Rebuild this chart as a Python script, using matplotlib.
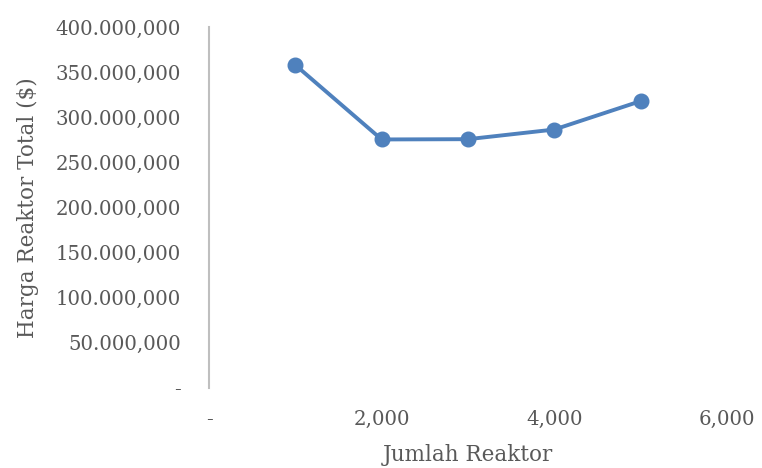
import matplotlib
matplotlib.use("Agg")
import matplotlib.pyplot as plt
from matplotlib.ticker import FuncFormatter

# Number of reactors vs. total reactor price
jumlah_reaktor = [1, 2, 3, 4, 5]
harga_total = [358000, 275500, 275800, 286500, 318000]

x_ticks = [0, 2, 4, 6]
y_ticks = [0, 50000, 100000, 150000, 200000, 250000, 300000, 350000, 400000]

LINE_COLOR = "#4F81BD"
TEXT_COLOR = "#595959"
AXIS_COLOR = "#BFBFBF"

plt.rcParams["font.family"] = ["DejaVu Serif"]


def id_format(v, _pos=None):
    """Indonesian style: '.' thousands separator, ',' decimals, '-' for zero."""
    if abs(v) < 1e-9:
        return "-"
    s = f"{v:,.3f}"
    return s.replace(",", "_").replace(".", ",").replace("_", ".")


fig = plt.figure(figsize=(7.62, 4.68), dpi=100)
ax = fig.add_axes([0.2743, 0.171, 0.6797, 0.771])

ax.plot(jumlah_reaktor, harga_total, color=LINE_COLOR, linewidth=2.8,
        marker="o", markersize=10.5, markerfacecolor=LINE_COLOR,
        markeredgecolor=LINE_COLOR, solid_capstyle="round", zorder=3)

ax.set_xlim(0, 6)
ax.set_ylim(0, 400000)
ax.set_xticks(x_ticks)
ax.set_yticks(y_ticks)
ax.xaxis.set_major_formatter(FuncFormatter(id_format))
ax.yaxis.set_major_formatter(FuncFormatter(id_format))

for side in ("top", "right", "bottom"):
    ax.spines[side].set_visible(False)
ax.spines["left"].set_color(AXIS_COLOR)
ax.spines["left"].set_linewidth(1.5)

ax.tick_params(axis="both", length=0, labelsize=14.2, labelcolor=TEXT_COLOR)
ax.tick_params(axis="y", pad=20)
ax.tick_params(axis="x", pad=16)

ax.set_xlabel("Jumlah Reaktor", fontsize=15.5, color=TEXT_COLOR, labelpad=11)
ax.set_ylabel("Harga Reaktor Total ($)", fontsize=15.5, color=TEXT_COLOR, labelpad=12)

fig.savefig("out.png", dpi=100)
